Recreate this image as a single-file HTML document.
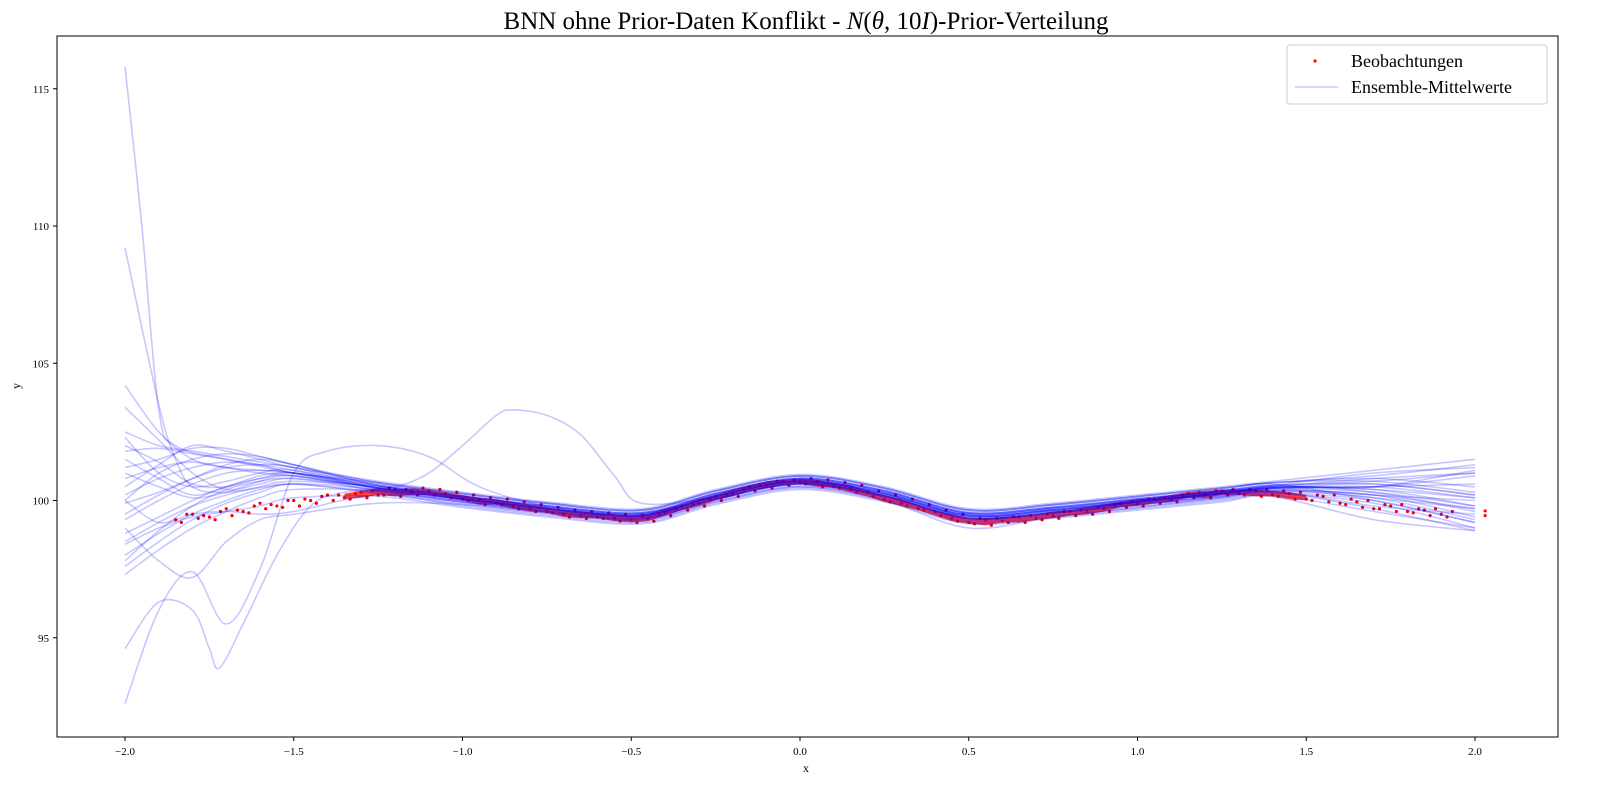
<!DOCTYPE html>
<html><head><meta charset="utf-8">
<style>
html,body{margin:0;padding:0;background:#fff;}
svg text{font-family:"Liberation Serif","DejaVu Serif",serif;fill:#000;}
</style></head>
<body>
<svg id="chart" width="1600" height="800" viewBox="0 0 1600 800" xmlns="http://www.w3.org/2000/svg">
<text x="806" y="29" font-size="25" text-anchor="middle">BNN ohne Prior-Daten Konflikt - <tspan font-style="italic">N</tspan>(<tspan font-style="italic">θ</tspan>, 10<tspan font-style="italic">I</tspan>)-Prior-Verteilung</text>
<defs><clipPath id="clip"><rect x="57" y="36" width="1501" height="701"/></clipPath></defs>
<g id="obs" clip-path="url(#clip)"></g>
<g id="lines" clip-path="url(#clip)"></g>
<rect x="57" y="36" width="1501" height="701" fill="none" stroke="#000" stroke-width="1"/>
<g id="axes"></g>
<text x="806" y="772" font-size="12" text-anchor="middle">x</text>
<text x="20" y="386" font-size="12" text-anchor="middle" transform="rotate(-90 20 386)">y</text>
<g>
<rect x="1287" y="45" width="260" height="59" rx="3" fill="#fff" stroke="#ccc" stroke-width="1"/>
<circle cx="1315" cy="61" r="1.6" fill="red"/>
<text x="1351" y="67" font-size="18">Beobachtungen</text>
<line x1="1295" y1="87" x2="1338" y2="87" stroke="rgba(0,0,255,0.22)" stroke-width="1.5"/>
<text x="1351" y="93" font-size="18">Ensemble-Mittelwerte</text>
</g>
</svg>
<script>
const xTicks=[-2.0,-1.5,-1.0,-0.5,0.0,0.5,1.0,1.5,2.0];
const xTickLabels=["−2.0","−1.5","−1.0","−0.5","0.0","0.5","1.0","1.5","2.0"];
const yTicks=[95,100,105,110,115];
const yTickLabels=["95","100","105","110","115"];

const obsX=[-1.85,-1.80,-1.75,-1.70,-1.65,-1.60,-1.55,-1.50,-1.45,-1.40,-1.35,-1.30,-1.25,-1.20,-1.15,-1.10,-1.05,-1.00,-0.95,-0.90,-0.85,-0.80,-0.75,-0.70,-0.65,-0.60,-0.55,-0.50,-0.45,-0.40,-0.35,-0.30,-0.25,-0.20,-0.15,-0.10,-0.05,0.00,0.05,0.10,0.15,0.20,0.25,0.30,0.35,0.40,0.45,0.50,0.55,0.60,0.65,0.70,0.75,0.80,0.85,0.90,0.95,1.00,1.05,1.10,1.15,1.20,1.25,1.30,1.35,1.40,1.45,1.50,1.55,1.60,1.65,1.70,1.75,1.80,1.85,1.90];
const obsYa=[99.3,99.5,99.4,99.7,99.6,99.9,99.8,100.0,100.0,100.2,100.1,100.3,100.2,100.4,100.3,100.35,100.25,100.05,100.05,99.9,99.8,99.7,99.6,99.5,99.45,99.4,99.35,99.3,99.35,99.55,99.8,99.9,100.15,100.25,100.5,100.55,100.7,100.65,100.7,100.5,100.4,100.3,100.05,99.9,99.7,99.6,99.35,99.2,99.3,99.25,99.4,99.35,99.45,99.6,99.6,99.7,99.9,99.9,100.05,100.05,100.25,100.2,100.35,100.25,100.35,100.2,100.25,100.05,100.15,99.9,99.95,99.7,99.8,99.6,99.65,99.5];
const obsYb=[99.2,99.35,99.3,99.45,99.55,99.7,99.75,99.8,99.9,100.0,100.05,100.1,100.2,100.15,100.2,100.2,100.1,100.0,99.85,99.85,99.7,99.6,99.55,99.4,99.35,99.35,99.25,99.2,99.25,99.45,99.65,99.8,100.0,100.15,100.35,100.45,100.55,100.6,100.5,100.45,100.3,100.15,99.95,99.8,99.65,99.45,99.25,99.15,99.1,99.2,99.2,99.3,99.35,99.45,99.5,99.6,99.75,99.8,99.9,99.95,100.1,100.1,100.2,100.2,100.15,100.15,100.05,100.0,99.95,99.85,99.75,99.7,99.6,99.55,99.45,99.4];
const obsYc=[99.5,99.45,99.6,99.65,99.8,99.85,100.0,100.05,100.15,100.2,100.25,100.35,100.45,100.4,100.45,100.4,100.3,100.2,100.1,100.05,99.95,99.85,99.75,99.65,99.6,99.55,99.5,99.45,99.5,99.7,99.85,100.05,100.2,100.4,100.55,100.7,100.75,100.8,100.75,100.65,100.55,100.35,100.2,100.05,99.85,99.65,99.5,99.35,99.35,99.4,99.45,99.5,99.6,99.65,99.75,99.85,99.95,100.05,100.1,100.2,100.3,100.35,100.4,100.4,100.4,100.35,100.3,100.2,100.2,100.05,100.0,99.85,99.85,99.7,99.7,99.6];
const obsExtraX=[2.03,2.03];
const obsExtraY=[99.45,99.62];

const knotX=[-2,-1.9,-1.8,-1.7,-1.6,-1.5,-1.25,-1,-0.75,-0.47,-0.25,0,0.25,0.5,0.75,1,1.25,1.4,1.7,2];
const baseMid=[100.45,100.05,99.7,99.45,100.15,100.7,100.25,99.45,99.65,99.95,100.25,100.45];
const leftVals=[
[100.0,101.0,101.5,101.7,101.6,101.3],[101.8,101.9,101.7,101.5,101.3,101.0],[102.5,102.0,101.8,101.6,101.4,101.2],
[104.2,102.5,101.5,101.2,101.1,101.0],[103.4,102.2,101.0,100.4,100.6,100.8],[98.5,99.2,99.8,100.2,100.5,100.7],
[97.6,98.5,99.3,99.9,100.3,100.6],[97.3,98.2,99.0,99.6,100.1,100.4],[99.3,100.0,100.6,101.0,101.1,101.0],
[100.5,101.3,102.0,101.8,101.5,101.2],[101.2,101.5,101.9,101.9,101.6,101.3],[99.9,100.3,100.8,101.2,101.3,101.2],
[98.0,98.8,99.5,100.0,100.4,100.6],[102.0,101.4,100.6,100.5,100.8,101.0],[100.2,100.8,101.2,101.4,101.3,101.1],
[98.8,99.4,100.0,100.5,100.8,100.9],[101.0,100.5,100.1,100.3,100.7,100.9],[97.8,98.9,99.8,100.4,100.7,100.8],
[100.0,99.2,99.5,99.6,99.5,99.6],[101.5,100.8,100.2,100.5,100.9,101.0],[99.5,100.2,100.8,101.3,101.5,101.3],
[102.3,101.0,100.5,100.7,101.0,101.1],[98.4,99.0,99.4,99.6,99.8,100.1],[100.8,101.2,101.4,101.2,101.0,100.9]];
const midOffsets=[0.1,0.2,0.25,0.0,-0.1,0.05,-0.2,-0.1,0.1,0.2,0.1,0.0,-0.15,0.05,0.15,0.0,-0.1,0.05,-0.25,0.1,0.2,-0.05,-0.3,0.0];
const rightVals=[[100.6,100.2],[100.9,101.3],[101.1,101.5],[100.4,99.8],[100.2,99.4],[100.5,100.9],[99.9,99.0],[100.1,99.3],[100.7,101.0],[100.8,100.5],[100.3,99.6],[100.2,100.0],[99.7,98.9],[100.5,101.1],[100.0,99.2],[100.6,100.2],[99.8,99.5],[100.4,100.1],[99.6,99.0],[101.0,101.2],[100.7,100.3],[100.1,99.7],[99.3,98.9],[100.5,100.6]];
const specX1=[-2,-1.95,-1.9,-1.85,-1.7,-1.5,-1.25,-1,-0.75,-0.47,-0.25,0,0.25,0.5,0.75,1,1.25,1.4,1.7,2];
const specY1=[115.8,110.0,103.3,102.0,101.5,101.0,100.45,100.05,99.7,99.45,100.1,100.65,100.2,99.4,99.6,99.95,100.25,100.45,100.5,100.1];
const specX2=[-2,-1.9,-1.85,-1.8,-1.7,-1.5,-1.25,-1,-0.75,-0.47,-0.25,0,0.25,0.5,0.75,1,1.25,1.4,1.7,2];
const specY2=[109.2,103.5,101.5,100.5,100.3,100.6,100.4,100.0,99.65,99.4,100.05,100.6,100.15,99.35,99.55,99.9,100.2,100.4,100.2,99.7];
const specX3=[-2,-1.9,-1.8,-1.75,-1.72,-1.65,-1.55,-1.45,-1.35,-1.2,-1.1,-1.0,-0.9,-0.85,-0.75,-0.65,-0.55,-0.47,-0.25,0,0.25,0.5,0.75,1,1.25,1.4,1.7,2];
const specY3=[94.6,96.3,96.0,94.6,93.9,95.5,98.0,99.8,100.3,100.5,101.0,102.0,103.1,103.3,103.1,102.4,100.9,99.9,100.1,100.65,100.2,99.4,99.6,99.95,100.25,100.45,100.3,99.8];
const specX4=[-2,-1.9,-1.8,-1.7,-1.6,-1.5,-1.4,-1.25,-1.1,-0.95,-0.75,-0.47,-0.25,0,0.25,0.5,0.75,1,1.25,1.4,1.7,2];
const specY4=[92.6,96.0,97.4,95.5,97.5,101.0,101.8,102.0,101.6,100.5,99.8,99.5,100.15,100.7,100.25,99.45,99.65,100.0,100.3,100.5,100.8,101.0];
const specX5=[-2,-1.9,-1.8,-1.7,-1.6,-1.5,-1.25,-1,-0.75,-0.47,-0.25,0,0.25,0.5,0.75,1,1.25,1.4,1.7,2];
const specY5=[99.0,97.8,97.2,98.5,99.3,99.5,99.9,99.85,99.55,99.3,99.95,100.5,100.0,99.0,99.4,99.75,100.1,100.3,100.0,99.2];

const X0=57,X1=1558,Y0=36,Y1=737;
function sx(v){return 800+v*337.5;}
function sy(v){return 500.5-(v-100)*27.45;}
const NS="http://www.w3.org/2000/svg";
const svg=document.getElementById('chart');
const axes=document.getElementById('axes');
function mk(tag,attrs,parent){const e=document.createElementNS(NS,tag);for(const k in attrs)e.setAttribute(k,attrs[k]);parent.appendChild(e);return e;}

xTicks.forEach((t,i)=>{
  const l=mk('line',{x1:sx(t),x2:sx(t),y1:Y1,y2:Y1+4,stroke:'#000'},axes);
  
  
  const tx=mk('text',{x:sx(t),y:Y1+18,'font-size':11,'text-anchor':'middle'},axes);
  tx.textContent=xTickLabels[i];
  
  
});
yTicks.forEach((t,i)=>{
  const l=mk('line',{x1:X0-4,x2:X0,y1:sy(t),y2:sy(t),stroke:'#000'},axes);
  
  
  const tx=mk('text',{x:X0-8,y:sy(t)+4,'font-size':11,'text-anchor':'end'},axes);
  tx.textContent=yTickLabels[i];
  
  
});

const og=document.getElementById('obs');
let band='';
const lo=10,hi=67;
for(let i=lo;i<=hi;i++)band+=(i===lo?'M':'L')+sx(obsX[i]).toFixed(1)+','+sy(obsYb[i]).toFixed(1);
for(let i=hi;i>=lo;i--)band+='L'+sx(obsX[i]).toFixed(1)+','+sy(obsYc[i]).toFixed(1);
const bp=mk('path',{d:band+'Z',fill:'red','fill-opacity':0.75},og);


const shifts=[0,0.017,0.033];
[obsYa,obsYb,obsYc].forEach((arr,s)=>{
  const n=Math.min(arr.length,obsX.length);
  for(let i=0;i<n;i++){
    const c=mk('circle',{cx:sx(obsX[i]+shifts[s]),cy:sy(arr[i]),r:1.6,fill:'red'},og);
    
    
  }
});
obsExtraX.forEach((x,i)=>{
  const c=mk('circle',{cx:sx(x),cy:sy(obsExtraY[i]),r:1.6,fill:'red'},og);
  
  
});

const lg=document.getElementById('lines');
function pathFor(xs,ys){
  const p=xs.map((x,i)=>[sx(x),sy(ys[i])]);
  let d='M'+p[0][0].toFixed(1)+','+p[0][1].toFixed(1);
  for(let i=0;i<p.length-1;i++){
    const a=p[Math.max(0,i-1)],b=p[i],c=p[i+1],e=p[Math.min(p.length-1,i+2)];
    const c1=[b[0]+(c[0]-a[0])/6,b[1]+(c[1]-a[1])/6];
    const c2=[c[0]-(e[0]-b[0])/6,c[1]-(e[1]-b[1])/6];
    d+='C'+c1[0].toFixed(1)+','+c1[1].toFixed(1)+' '+c2[0].toFixed(1)+','+c2[1].toFixed(1)+' '+c[0].toFixed(1)+','+c[1].toFixed(1);
  }
  return d;
}
function addLine(xs,ys){
  const el=mk('path',{d:pathFor(xs,ys),fill:'none',stroke:'rgba(0,0,255,0.22)','stroke-width':1.6},lg);
  
  
}
leftVals.forEach((lv,k)=>{
  const ys=lv.concat(baseMid.map(v=>v+midOffsets[k])).concat(rightVals[k]);
  addLine(knotX,ys);
});
addLine(specX1,specY1);
addLine(specX2,specY2);
addLine(specX3,specY3);
addLine(specX4,specY4);
addLine(specX5,specY5);
</script>
</body></html>
